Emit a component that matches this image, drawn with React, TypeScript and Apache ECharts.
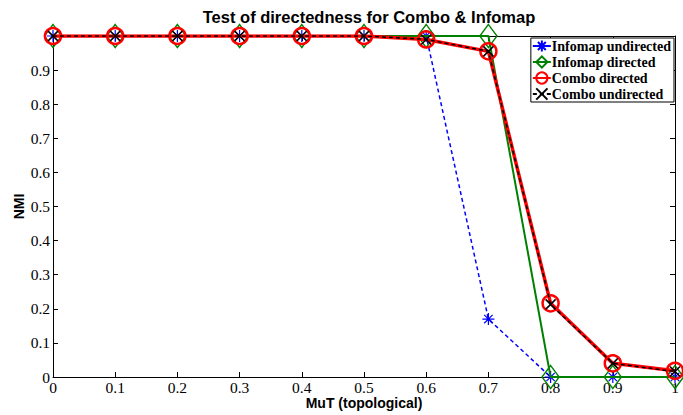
import React, { useEffect, useRef } from 'react';
import * as echarts from 'echarts';

const mut = [0, 0.1, 0.2, 0.3, 0.4, 0.5, 0.6, 0.7, 0.8, 0.9, 1];
const infomapUndirected = [1, 1, 1, 1, 1, 1, 1, 0.17, 0, 0, 0];
const infomapDirected = [1, 1, 1, 1, 1, 1, 1, 1, 0, 0, 0];
const comboDirected = [1, 1, 1, 1, 1, 1, 0.99, 0.955, 0.216, 0.04, 0.018];
const comboUndirected = [1, 1, 1, 1, 1, 1, 0.99, 0.955, 0.213, 0.04, 0.016];
const seriesNames = ['Infomap undirected', 'Infomap directed', 'Combo directed', 'Combo undirected'];

const asterisk = 'path://M10,0L10,20M0,10L20,10M3,3L17,17M3,17L17,3';
const cross = 'path://M0,0L20,20M0,20L20,0';

const pairs = (ys: number[]) => mut.map((x, i) => [x, ys[i]]);

export default function App() {
  const ref = useRef<HTMLDivElement>(null);
  useEffect(() => {
    if (!ref.current) return;
    const chart = echarts.init(ref.current, null, { renderer: 'svg' });
    const serif = 'Liberation Serif';
    const tickLabel = { fontFamily: serif, fontSize: 15.5, lineHeight: 11, color: '#000' };
    const nameStyle = { fontFamily: 'Liberation Sans', fontWeight: 'bold', fontSize: 14, lineHeight: 14, color: '#000' };
    chart.setOption({
      animation: false,
      backgroundColor: '#fff',
      title: {
        text: 'Test of directedness for Combo & Infomap',
        left: 364,
        textAlign: 'center',
        top: 3,
        textStyle: { fontFamily: 'Liberation Sans', fontWeight: 'bold', fontSize: 16.5, color: '#000' },
      },
      grid: { left: 53, right: 8, top: 36, bottom: 36, containLabel: false },
      legend: {
        orient: 'vertical',
        right: 9,
        top: 38,
        itemWidth: 18,
        itemHeight: 14,
        itemGap: 2,
        padding: [1, 3, 1, 1],
        borderColor: '#000',
        borderWidth: 1,
        backgroundColor: '#fff',
        data: seriesNames,
        textStyle: { fontFamily: serif, fontWeight: 'bold', fontSize: 14, color: '#000', padding: [0, 0, 0, -4] },
      },
      xAxis: [
        {
          type: 'value',
          min: 0,
          max: 1,
          interval: 0.1,
          name: 'MuT (topological)',
          nameLocation: 'middle',
          nameGap: 19,
          nameMoveOverlap: false,
          nameTextStyle: nameStyle,
          axisLine: { onZero: false, lineStyle: { color: '#000', width: 1 } },
          axisTick: { inside: true, length: 5, lineStyle: { color: '#000' } },
          axisLabel: { ...tickLabel, margin: 5, formatter: (v: number) => String(+v.toFixed(1)) },
          splitLine: { show: false },
        },
        {
          type: 'value',
          position: 'top',
          min: 0,
          max: 1,
          interval: 0.1,
          axisLine: { onZero: false, lineStyle: { color: '#000', width: 1 } },
          axisTick: { inside: true, length: 5, lineStyle: { color: '#000' } },
          axisLabel: { show: false },
          splitLine: { show: false },
        },
      ],
      yAxis: [
        {
          type: 'value',
          min: 0,
          max: 1,
          interval: 0.1,
          name: 'NMI',
          nameLocation: 'middle',
          nameGap: 27,
          nameMoveOverlap: false,
          nameRotate: 90,
          nameTextStyle: nameStyle,
          axisLine: { onZero: false, lineStyle: { color: '#000', width: 1 } },
          axisTick: { inside: true, length: 5, lineStyle: { color: '#000' } },
          axisLabel: {
            ...tickLabel,
            margin: 3,
            formatter: (v: number) => (v >= 1 ? '' : String(+v.toFixed(1))),
          },
          splitLine: { show: false },
        },
        {
          type: 'value',
          position: 'right',
          min: 0,
          max: 1,
          interval: 0.1,
          axisLine: { onZero: false, lineStyle: { color: '#000', width: 1 } },
          axisTick: { inside: true, length: 5, lineStyle: { color: '#000' } },
          axisLabel: { show: false },
          splitLine: { show: false },
        },
      ],
      series: [
        {
          name: seriesNames[0],
          type: 'line',
          data: pairs(infomapUndirected),
          symbol: asterisk,
          symbolSize: 12,
          lineStyle: { color: '#0000ff', width: 1.5, type: [4, 3] },
          itemStyle: { color: 'rgba(0,0,0,0)', borderColor: '#0000ff', borderWidth: 1.2 },
          z: 2,
        },
        {
          name: seriesNames[1],
          type: 'line',
          data: pairs(infomapDirected),
          symbol: 'diamond',
          symbolSize: [17, 23],
          lineStyle: { color: '#008000', width: 2 },
          itemStyle: { color: 'rgba(0,0,0,0)', borderColor: '#008000', borderWidth: 1.5 },
          z: 3,
        },
        {
          name: seriesNames[2],
          type: 'line',
          data: pairs(comboDirected),
          symbol: 'circle',
          symbolSize: 16,
          lineStyle: { color: '#ff0000', width: 3.5 },
          itemStyle: { color: 'rgba(0,0,0,0)', borderColor: '#ff0000', borderWidth: 2.5 },
          z: 4,
        },
        {
          name: seriesNames[3],
          type: 'line',
          data: pairs(comboUndirected),
          symbol: cross,
          symbolSize: 10,
          lineStyle: { color: '#000', width: 1.5, type: [4, 3] },
          itemStyle: { color: 'rgba(0,0,0,0)', borderColor: '#000', borderWidth: 1.5 },
          z: 5,
        },
      ],
    });
    return () => chart.dispose();
  }, []);
  return <div ref={ref} style={{ width: 683, height: 415, position: 'absolute', left: 0, top: 0 }} />;
}
